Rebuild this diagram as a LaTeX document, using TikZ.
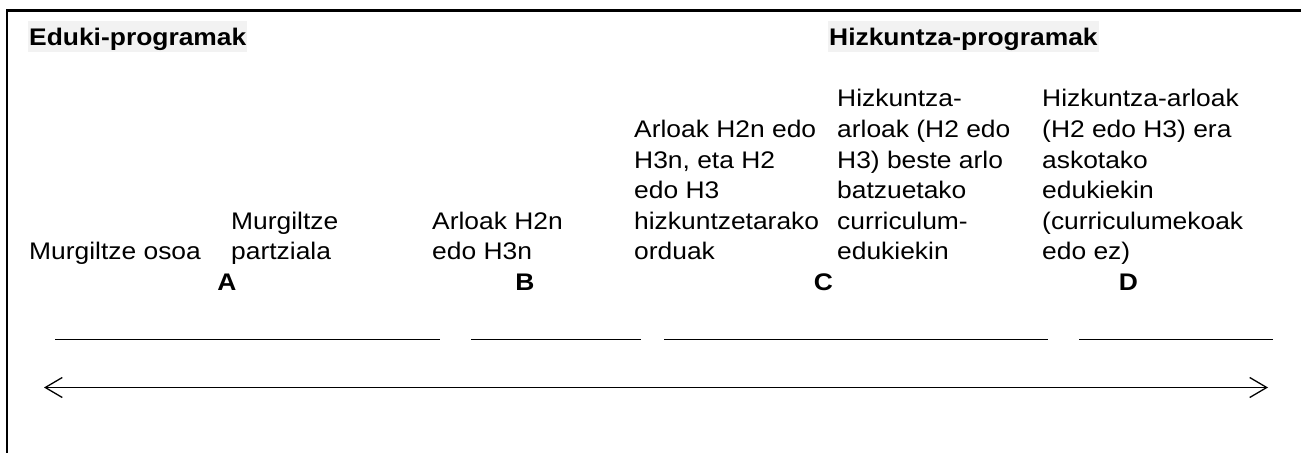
\documentclass[tikz,border=0pt]{standalone}
\usepackage{fontspec}
\setmainfont[FakeStretch=1.1]{Liberation Sans}
\usetikzlibrary{arrows.meta}
\definecolor{hdrgray}{HTML}{F2F2F2}
\tikzset{
  txt/.style={inner sep=0pt, anchor=base west, font=\fontsize{24bp}{30.6bp}\selectfont},
  letter/.style={inner sep=0pt, anchor=base, font=\fontsize{24bp}{30.6bp}\selectfont\bfseries},
  hdr/.style={inner ysep=0pt, inner xsep=1bp, anchor=base west, fill=hdrgray, text height=25bp, text depth=6bp, font=\fontsize{24bp}{30.6bp}\selectfont\bfseries},
  frame/.style={line width=2.6bp, line cap=rect},
  seg/.style={line width=1.3bp},
  axis/.style={line width=1.3bp, {Straight Barb[length=17bp,width=20bp,line width=1.3bp]}-{Straight Barb[length=17bp,width=20bp,line width=1.3bp]}}
}
\newcommand{\lines}[1]{\begin{tabular}[b]{@{}l@{}}#1\end{tabular}}
\begin{document}
\begin{tikzpicture}[x=1bp,y=-1bp]
\useasboundingbox (0,0) rectangle (1301,453);
% frame
\coordinate (fbl) at (7,455);
\coordinate (ftl) at (7,10.5);
\coordinate (ftr) at (1303,10.5);
\draw[frame] (fbl) -- (ftl) -- (ftr);
% headers
\node[hdr] (h1) at (28,45.7) {Eduki-programak};
\node[hdr] (h2) at (828,45.7) {Hizkuntza-programak};
% texts
\node[txt] (t1) at (29,260) {Murgiltze osoa};
\node[txt] (t2) at (231,260) {\lines{Murgiltze\\partziala}};
\node[txt] (t3) at (432,260) {\lines{Arloak H2n\\edo H3n}};
\node[txt] (t4) at (634,260) {\lines{Arloak H2n edo\\H3n, eta H2\\edo H3\\hizkuntzetarako\\orduak}};
\node[txt] (t5) at (837,260) {\lines{Hizkuntza-\\arloak (H2 edo\\H3) beste arlo\\batzuetako\\curriculum-\\edukiekin}};
\node[txt] (t6) at (1042,260) {\lines{Hizkuntza-arloak\\(H2 edo H3) era\\askotako\\edukiekin\\(curriculumekoak\\edo ez)}};
% letters
\node[letter] (lA) at (227,290.5) {A};
\node[letter] (lB) at (525,290.5) {B};
\node[letter] (lC) at (823.5,290.5) {C};
\node[letter] (lD) at (1128.5,290.5) {D};
% segments
\coordinate (s1a) at (55,339.5);   \coordinate (s1b) at (440,339.5);
\coordinate (s2a) at (471,339.5);  \coordinate (s2b) at (641,339.5);
\coordinate (s3a) at (664,339.5);  \coordinate (s3b) at (1048,339.5);
\coordinate (s4a) at (1079,339.5); \coordinate (s4b) at (1273,339.5);
\draw[seg] (s1a) -- (s1b);
\draw[seg] (s2a) -- (s2b);
\draw[seg] (s3a) -- (s3b);
\draw[seg] (s4a) -- (s4b);
% axis arrow
\coordinate (al) at (44,387.5);
\coordinate (ar) at (1268,387.5);
\draw[axis] (al) -- (ar);
\end{tikzpicture}
\end{document}
